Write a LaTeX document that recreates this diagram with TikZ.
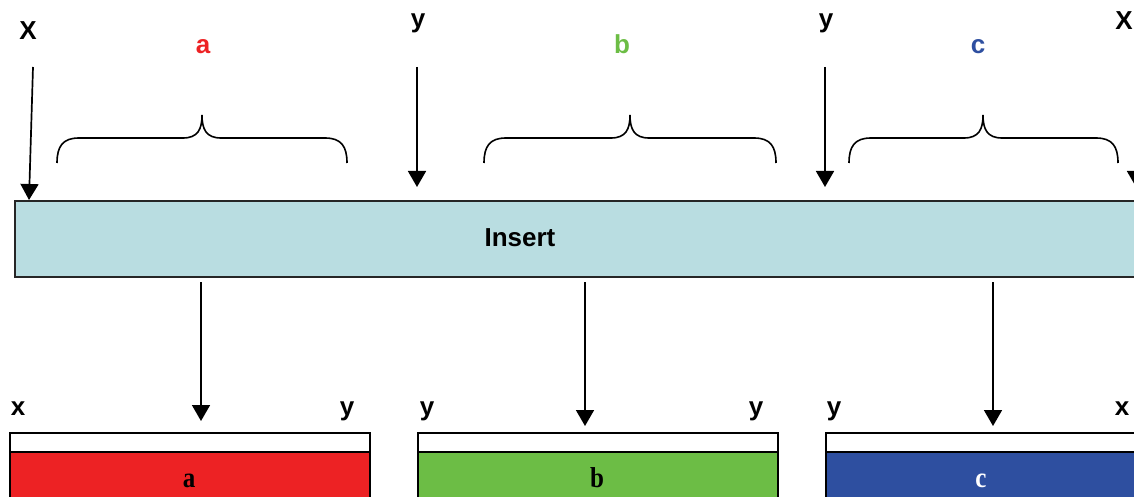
\documentclass[tikz,border=0pt]{standalone}
\usepackage{fontspec}
\setmainfont{Liberation Serif}
\setsansfont{Liberation Sans}
\usetikzlibrary{arrows.meta,calc}

\definecolor{insertfill}{HTML}{B9DDE1}
\definecolor{segred}{HTML}{ED2224}
\definecolor{seggreen}{HTML}{6CBD45}
\definecolor{segblue}{HTML}{2E4FA0}

% curly brace over a segment: left x, tip x, right x
\newcommand\segbrace[3]{%
  \draw[bracestyle] (#1,163) .. controls (#1,146) and (#1+6,138) .. (#1+22,138)
    -- (#2-19,138) .. controls (#2-4,138) and (#2,129) .. (#2,115)
    .. controls (#2,129) and (#2+4,138) .. (#2+19,138)
    -- (#3-22,138) .. controls (#3-6,138) and (#3,146) .. (#3,163);}

\begin{document}
\begin{tikzpicture}[x=1pt,y=-1pt,
  lbl/.style={font=\sffamily\bfseries\fontsize{26}{30}\selectfont, inner sep=0pt, anchor=base},
  seglbl/.style={font=\rmfamily\bfseries\fontsize{25}{30}\selectfont, inner sep=0pt, anchor=base},
  arr/.style={line width=1.7pt, -{Triangle[length=16pt,width=18pt]}},
  bracestyle/.style={line width=1.6pt},
  strip/.style={draw=black, fill=white, line width=1.6pt, anchor=north west,
    minimum width=360pt, minimum height=19pt, inner sep=0pt},
  segbox/.style={draw=black, line width=1.6pt, anchor=north west,
    minimum width=360pt, minimum height=70pt, inner sep=0pt}]
\useasboundingbox (0,0) rectangle (1134,497);
\clip (0,0) rectangle (1134,497);

% the insert
\node[draw=black!85, fill=insertfill, line width=1.6pt, anchor=north west,
  minimum width=1140pt, minimum height=76pt, inner sep=0pt] (ins) at (14,200) {};
\node[lbl] (instext) at (520,246) {Insert};

% top labels
\node[lbl] (X1) at (28,40) {X};
\node[lbl, text=segred] (la) at (203,54) {a};
\node[lbl] (y1) at (418,28) {y};
\node[lbl, text=seggreen] (lb) at (622,54) {b};
\node[lbl] (y2) at (826,28) {y};
\node[lbl, text=segblue] (lc) at (978,54) {c};
\node[lbl] (X2) at (1124,30) {X};

% braces over the three segments
\segbrace{57}{202}{347}
\segbrace{484}{630}{776}
\segbrace{849}{983}{1118}

% cut-site arrows
\coordinate (c1s) at (33,67);   \coordinate (c1e) at (29,200);
\coordinate (c2s) at (417,67);  \coordinate (c2e) at (417,187);
\coordinate (c3s) at (825,67);  \coordinate (c3e) at (825,187);
\coordinate (c4s) at (1136,67); \coordinate (c4e) at (1136,187);
\draw[arr] (c1s) -- (c1e);
\draw[arr] (c2s) -- (c2e);
\draw[arr] (c3s) -- (c3e);
\draw[arr] (c4s) -- (c4e);

% resulting fragments
\node[strip] (sa) at (9,432) {};
\node[segbox, fill=segred] (fa) at (9,451) {};
\node[strip] (sb) at (417,432) {};
\node[segbox, fill=seggreen] (fb) at (417,451) {};
\node[strip] (sc) at (825,432) {};
\node[segbox, fill=segblue] (fc) at (825,451) {};

\node[seglbl] (ta) at (189,487) {\scalebox{1}[1.15]{a}};
\node[seglbl] (tb) at (597,487) {\scalebox{1}[1.15]{b}};
\node[seglbl, text=white] (tc) at (981,487) {\scalebox{1}[1.15]{c}};

% end labels of the fragments
\node[lbl] (ax) at (18,415) {x};
\node[lbl] (ay) at (347,415) {y};
\node[lbl] (by1) at (427,415) {y};
\node[lbl] (by2) at (756,415) {y};
\node[lbl] (cy) at (834,415) {y};
\node[lbl] (cx) at (1122,415) {x};

% arrows from the insert to the fragments
\coordinate (da) at (201,282); \coordinate (db) at (585,282); \coordinate (dc) at (993,282);
\draw[arr] (da) -- ($(sa.north -| da)+(0,-11)$);
\draw[arr] (db) -- ($(sb.north -| db)+(0,-6)$);
\draw[arr] (dc) -- ($(sc.north -| dc)+(0,-6)$);
\end{tikzpicture}
\end{document}
